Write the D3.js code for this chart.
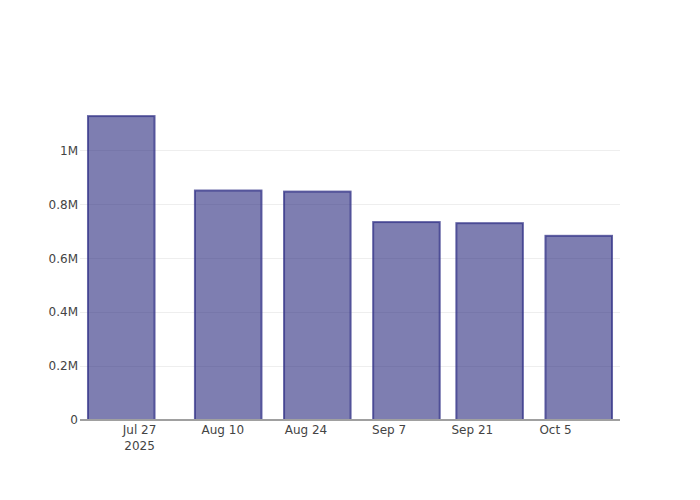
<!DOCTYPE html>
<html>
<head>
<meta charset="utf-8">
<script src="https://cdn.jsdelivr.net/npm/d3@7"></script>
<style>
  html, body { margin: 0; padding: 0; background: #fff; }
  svg { display: block; }
  text { font-family: "DejaVu Sans", sans-serif; font-size: 12px; fill: #444; }
</style>
</head>
<body>
<svg id="chart" width="700" height="500"></svg>
<script>
// ---- data ----
const dates = ["2025-07-24", "2025-08-11", "2025-08-26", "2025-09-10", "2025-09-24", "2025-10-09"];
const values = [1127000, 851000, 847000, 734000, 730000, 683000];
const xTickDates = ["2025-07-27", "2025-08-10", "2025-08-24", "2025-09-07", "2025-09-21", "2025-10-05"];
const xTickLabels = [["Jul 27", "2025"], ["Aug 10"], ["Aug 24"], ["Sep 7"], ["Sep 21"], ["Oct 5"]];
const yTickValues = [0, 200000, 400000, 600000, 800000, 1000000];
const yTickLabels = ["0", "0.2M", "0.4M", "0.6M", "0.8M", "1M"];

// ---- layout ----
const W = 700, H = 500;
const margin = { l: 80, r: 80, t: 100, b: 80 };
const iw = W - margin.l - margin.r, ih = H - margin.t - margin.b;

const parse = d3.utcParse("%Y-%m-%d");
const data = dates.map((d, i) => ({ date: parse(d), value: values[i] }));

// bar width = 0.8 * minimum spacing between bars
let minGap = Infinity;
for (let i = 1; i < data.length; i++) minGap = Math.min(minGap, data[i].date - data[i - 1].date);
const barW = minGap * 0.8;
const pad = barW * 0.12;

const x = d3.scaleUtc()
  .domain([new Date(+data[0].date - barW / 2 - pad), new Date(+data[data.length - 1].date + barW / 2 + pad)])
  .range([0, iw]);
const y = d3.scaleLinear()
  .domain([0, d3.max(values) * 1.053])
  .range([ih, 0]);

const svg = d3.select("#chart");
const g = svg.append("g").attr("transform", `translate(${margin.l},${margin.t})`);

// gridlines
g.append("g").selectAll("line")
  .data(yTickValues.filter(v => v !== 0))
  .join("line")
  .attr("x1", 0).attr("x2", iw)
  .attr("y1", d => Math.round(y(d)) + 0.5).attr("y2", d => Math.round(y(d)) + 0.5)
  .attr("stroke", "#eeeeee").attr("stroke-width", 1);

// bars
g.append("g").selectAll("rect")
  .data(data)
  .join("rect")
  .attr("x", d => x(new Date(+d.date - barW / 2)))
  .attr("width", d => x(new Date(+d.date + barW / 2)) - x(new Date(+d.date - barW / 2)))
  .attr("y", d => y(d.value))
  .attr("height", d => y(0) - y(d.value))
  .attr("fill", "rgba(40,40,125,0.6)")
  .attr("stroke", "rgba(50,50,135,0.75)")
  .attr("stroke-width", 2);

// x axis line
g.append("line")
  .attr("x1", 0).attr("x2", iw)
  .attr("y1", ih).attr("y2", ih)
  .attr("stroke", "#a0a0a0").attr("stroke-width", 2);

// y axis via d3 axis, styled
const yAxis = d3.axisLeft(y)
  .tickValues(yTickValues)
  .tickFormat((d, i) => yTickLabels[i])
  .tickSize(0)
  .tickPadding(2);
const yg = g.append("g").call(yAxis);
yg.select(".domain").remove();
yg.selectAll("text").attr("font-family", null).attr("font-size", null).style("fill", "#444");

// x axis
const xAxis = d3.axisBottom(x)
  .tickValues(xTickDates.map(parse))
  .tickFormat("")
  .tickSize(0);
const xg = g.append("g").attr("transform", `translate(0,${ih})`).call(xAxis);
xg.select(".domain").remove();
xg.selectAll(".tick").each(function (d, i) {
  const t = d3.select(this).append("text")
    .attr("text-anchor", "middle")
    .style("fill", "#444");
  xTickLabels[i].forEach((line, j) => {
    t.append("tspan").attr("x", 0).attr("y", 14 + j * 16).text(line);
  });
});
</script>
</body>
</html>
